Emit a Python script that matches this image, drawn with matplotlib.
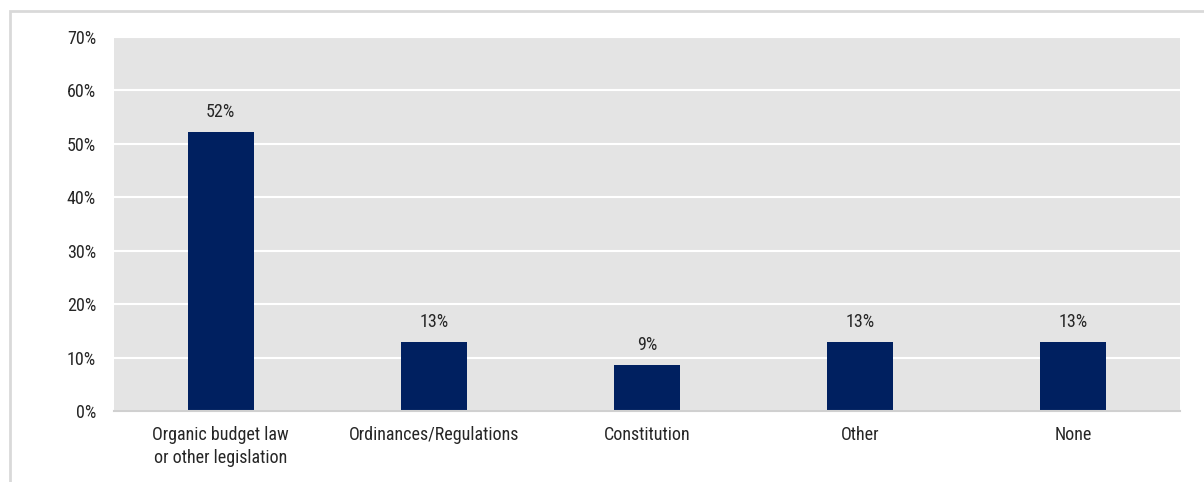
import matplotlib.pyplot as plt
from matplotlib.patches import Rectangle
from matplotlib.ticker import FuncFormatter

categories = ["Organic budget law\nor other legislation", "Ordinances/Regulations",
              "Constitution", "Other", "None"]
shares = [52.2, 13.0, 8.7, 13.0, 13.0]

plt.rcParams['font.family'] = ['Roboto Condensed', 'Liberation Sans', 'DejaVu Sans']
FS = 13
INK = '#262626'

fig = plt.figure(figsize=(12.04, 4.82), dpi=100)
W, H = 1204, 482
ax = fig.add_axes([114 / W, 1 - 411 / H, (1180 - 114) / W, (411 - 37) / H])

# light grey frame around the chart
fig.patches.append(Rectangle((10 / W, -0.1), 1.2, 1 - 11 / H + 0.1, transform=fig.transFigure,
                             fill=False, edgecolor='#d9d9d9', linewidth=2))

ax.set_facecolor('#e4e4e4')
x = range(len(categories))
ax.bar(x, shares, width=0.31, color='#002060', zorder=3)
for i, v in zip(x, shares):
    ax.text(i, v + 2.0, f"{v:.0f}%", ha='center', va='bottom', fontsize=FS, color=INK)

ax.set_xlim(-0.5, len(categories) - 0.5)
ax.set_ylim(0, 70)
ax.set_yticks(range(0, 71, 10))
ax.yaxis.set_major_formatter(FuncFormatter(lambda v, p: f"{v:.0f}%"))
ax.set_xticks(list(x))
ax.set_xticklabels(categories, fontsize=FS, color=INK, linespacing=1.35)
ax.tick_params(axis='y', labelsize=FS, labelcolor=INK, length=0, pad=13)
ax.tick_params(axis='x', length=0, pad=11)
ax.grid(axis='y', color='white', linewidth=1.5, zorder=1)
for s in ['top', 'right', 'left']:
    ax.spines[s].set_visible(False)
ax.spines['bottom'].set_color('#d0d0d0')
ax.spines['bottom'].set_linewidth(1.5)
ax.spines['bottom'].set_zorder(4)

fig.savefig("out.png", dpi=100)
